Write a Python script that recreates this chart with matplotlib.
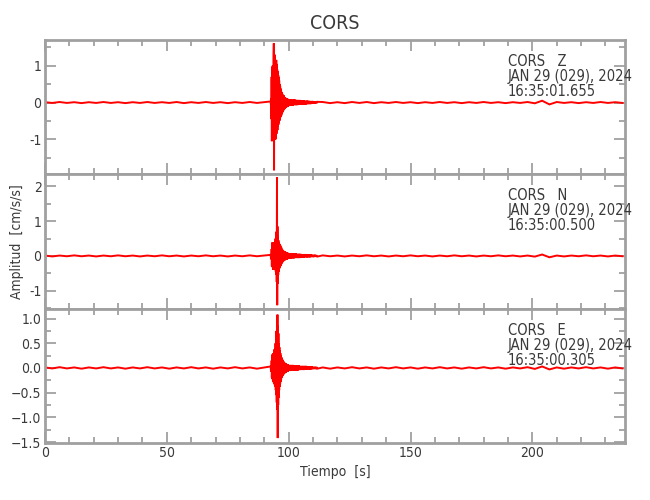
import matplotlib
matplotlib.use('Agg')
import matplotlib.pyplot as plt
from matplotlib.ticker import MultipleLocator
import numpy as np

plt.rcParams['font.family'] = ['DejaVu Sans']
plt.rcParams['font.stretch'] = 'condensed'

STATION = 'CORS'
COMPONENTS = ['Z', 'N', 'E']
DATE_LABEL = 'JAN 29 (029), 2024'
START_TIMES = ['16:35:01.655', '16:35:00.500', '16:35:00.305']
YLIMS = [(-1.95, 1.7), (-1.52, 2.35), (-1.52, 1.2)]
Y_MAJOR = [1.0, 1.0, 0.5]
Y_MINOR = [0.5, 0.5, 0.25]
T_MAX = 238

# sample times of each trace segment
t_pre = np.linspace(0, 90, 31)
t_evt = np.linspace(92.6, 99.9, 74)
t_coda = np.linspace(100.0, 111.7, 40)
t_post = np.linspace(114, 237, 42)

# ---- Z component (cm/s/s) ----
z_pre = [0.01, -0.01, 0.015, -0.01, 0.01, -0.015, 0.01, -0.01, 0.015, -0.01,
         0.01, -0.015, 0.01, -0.01, 0.015, -0.01, 0.01, -0.01, 0.015, -0.015,
         0.01, -0.01, 0.015, -0.01, 0.01, -0.015, 0.01, -0.01, 0.015, -0.01, 0.01]
z_evt = [0.03, -0.05, 0.12, -0.45,
         0.7, -1.05, 0.95, -0.8, 1.0, -0.9, 0.75, -0.95, 1.2, 1.61,
         -1.84, 0.9, -1.0, 1.3, -0.9, 1.0, -1.0, 0.95, -0.95, 1.16,
         -0.85, 1.05, -0.8, 0.9, -0.75, 0.85, -0.65, 0.75, -0.6, 0.7,
         -0.55, 0.6, -0.5, 0.5, -0.45, 0.45, -0.4, 0.38, -0.38, 0.32,
         -0.35, 0.28, -0.3, 0.25, -0.27, 0.22, -0.24, 0.2, -0.22, 0.2,
         -0.2, 0.17, -0.18, 0.15, -0.17, 0.14, -0.15, 0.13, -0.14, 0.12,
         -0.13, 0.12, -0.12, 0.11, -0.11, 0.1, -0.1, 0.1, -0.1, 0.09]
z_coda = [-0.09, 0.09, -0.08, 0.09, -0.08, 0.08, -0.08, 0.08, -0.07, 0.08,
          -0.07, 0.07, -0.07, 0.07, -0.06, 0.07, -0.06, 0.06, -0.06, 0.06,
          -0.05, 0.06, -0.05, 0.05, -0.05, 0.05, -0.04, 0.05, -0.04, 0.04,
          -0.04, 0.04, -0.03, 0.04, -0.03, 0.03, -0.03, 0.03, -0.02, 0.02]
z_post = [0.015, -0.015, 0.01, -0.015, 0.015, -0.01, 0.015, -0.015, 0.01, -0.01,
          0.015, -0.01, 0.01, -0.015, 0.01, -0.01, 0.015, -0.01, 0.01, -0.015,
          0.01, -0.01, 0.015, -0.01, 0.01, -0.015, 0.01, -0.01, 0.015, -0.02,
          0.05, -0.05, 0.015, -0.01, 0.01, -0.015, 0.01, -0.01, 0.015, -0.01,
          0.01, -0.01]

# ---- N component ----
n_pre = [0.01, -0.015, 0.01, -0.01, 0.015, -0.01, 0.01, -0.015, 0.01, -0.01,
         0.015, -0.01, 0.01, -0.015, 0.01, -0.01, 0.015, -0.01, 0.01, -0.015,
         0.01, -0.01, 0.015, -0.01, 0.01, -0.015, 0.01, -0.01, 0.015, -0.01, 0.01]
n_evt = [0.03, -0.04, 0.05, -0.1,
         0.2, -0.3, 0.35, -0.3, 0.4, -0.35, 0.3, -0.4, 0.35, -0.3,
         0.4, -0.35, 0.38, -0.4, 0.42, -0.38, 0.5, -0.45, 0.6, -0.55,
         0.7, -0.75, 2.26, -1.42, 0.85, -0.8, 0.6, -0.55, 0.45, -0.45,
         0.4, -0.38, 0.35, -0.35, 0.32, -0.3, 0.3, -0.28, 0.26, -0.25,
         0.24, -0.22, 0.2, -0.2, 0.18, -0.18, 0.17, -0.16, 0.15, -0.15,
         0.14, -0.14, 0.13, -0.13, 0.12, -0.12, 0.12, -0.11, 0.11, -0.11,
         0.1, -0.1, 0.1, -0.1, 0.09, -0.09, 0.09, -0.09, 0.08, -0.08]
n_coda = [0.08, -0.08, 0.08, -0.07, 0.08, -0.07, 0.07, -0.07, 0.07, -0.06,
          0.07, -0.06, 0.06, -0.06, 0.06, -0.06, 0.06, -0.05, 0.05, -0.05,
          0.05, -0.05, 0.05, -0.04, 0.05, -0.04, 0.04, -0.04, 0.04, -0.04,
          0.04, -0.03, 0.03, -0.03, 0.03, -0.03, 0.03, -0.02, 0.02, -0.02]
n_post = [0.015, -0.01, 0.01, -0.015, 0.01, -0.01, 0.015, -0.01, 0.01, -0.015,
          0.01, -0.01, 0.015, -0.01, 0.01, -0.015, 0.01, -0.01, 0.015, -0.01,
          0.01, -0.015, 0.01, -0.01, 0.015, -0.01, 0.01, -0.015, 0.01, -0.02,
          0.04, -0.04, 0.01, -0.015, 0.01, -0.01, 0.015, -0.01, 0.01, -0.015,
          0.01, -0.01]

# ---- E component ----
e_pre = [0.01, -0.01, 0.015, -0.01, 0.01, -0.015, 0.01, -0.01, 0.015, -0.01,
         0.01, -0.015, 0.01, -0.01, 0.015, -0.01, 0.01, -0.015, 0.01, -0.01,
         0.015, -0.01, 0.01, -0.015, 0.01, -0.01, 0.015, -0.01, 0.01, -0.015, 0.01]
e_evt = [0.03, -0.03, 0.05, -0.08,
         0.15, -0.2, 0.25, -0.22, 0.28, -0.25, 0.3, -0.28, 0.3, -0.3,
         0.35, -0.32, 0.38, -0.35, 0.4, -0.38, 0.5, -0.45, 0.6, -0.55,
         0.75, -0.7, 0.97, -0.85, 1.08, -1.42, 0.85, -0.75, 0.7, -0.6,
         0.5, -0.45, 0.42, -0.38, 0.35, -0.32, 0.3, -0.28, 0.26, -0.24,
         0.22, -0.2, 0.2, -0.18, 0.17, -0.16, 0.15, -0.14, 0.14, -0.13,
         0.12, -0.12, 0.11, -0.11, 0.1, -0.1, 0.1, -0.09, 0.09, -0.09,
         0.08, -0.08, 0.08, -0.08, 0.07, -0.07, 0.07, -0.07, 0.06, -0.06]
e_coda = [0.06, -0.06, 0.06, -0.06, 0.06, -0.05, 0.06, -0.05, 0.05, -0.05,
          0.05, -0.05, 0.05, -0.05, 0.05, -0.04, 0.04, -0.04, 0.04, -0.04,
          0.04, -0.04, 0.04, -0.03, 0.04, -0.03, 0.03, -0.03, 0.03, -0.03,
          0.03, -0.03, 0.03, -0.02, 0.02, -0.02, 0.02, -0.02, 0.02, -0.015]
e_post = [0.01, -0.015, 0.01, -0.01, 0.015, -0.01, 0.01, -0.015, 0.01, -0.01,
          0.015, -0.01, 0.01, -0.015, 0.01, -0.01, 0.015, -0.01, 0.01, -0.015,
          0.01, -0.01, 0.015, -0.01, 0.01, -0.015, 0.01, -0.01, 0.015, -0.02,
          0.03, -0.03, 0.01, -0.015, 0.01, -0.01, 0.015, -0.01, 0.01, -0.015,
          0.01, -0.01]

traces = [(z_pre, z_evt, z_coda, z_post),
          (n_pre, n_evt, n_coda, n_post),
          (e_pre, e_evt, e_coda, e_post)]

t_all = np.concatenate([t_pre, t_evt, t_coda, t_post])

AXIS_GRAY = '#a0a0a0'
TEXT = '#3a3a3a'

fig, axes = plt.subplots(3, 1, figsize=(6.5, 5), dpi=100, sharex=True)
fig.subplots_adjust(left=0.0692, right=0.9615, top=0.92, bottom=0.114, hspace=0)

for i, ax in enumerate(axes):
    parts = traces[i]
    vals = np.concatenate([np.asarray(p, float) for p in parts])
    assert len(vals) == len(t_all), (i, len(vals), len(t_all))
    ax.plot(t_all, vals, color='#ff0000', lw=1.4, solid_joinstyle='miter')

    ax.set_xlim(0, T_MAX)
    ax.set_ylim(*YLIMS[i])
    ax.yaxis.set_major_locator(MultipleLocator(Y_MAJOR[i]))
    ax.yaxis.set_minor_locator(MultipleLocator(Y_MINOR[i]))
    ax.xaxis.set_major_locator(MultipleLocator(50))
    ax.xaxis.set_minor_locator(MultipleLocator(10))
    if Y_MAJOR[i] == 1.0:
        ax.yaxis.set_major_formatter(plt.FuncFormatter(lambda v, p: '%d' % round(v)))

    ax.tick_params(which='both', direction='in', top=True, right=True,
                   color=AXIS_GRAY, width=1.3, labelcolor=TEXT, labelsize=10, pad=2.5)
    ax.tick_params(which='major', length=8)
    ax.tick_params(which='minor', length=4)
    for sp in ax.spines.values():
        sp.set_color(AXIS_GRAY)
        sp.set_linewidth(2)

    ax.text(0.798, 0.895, '%s   %s\n%s\n%s' % (STATION, COMPONENTS[i], DATE_LABEL, START_TIMES[i]),
            transform=ax.transAxes, ha='left', va='top', fontsize=10.5,
            color=TEXT, linespacing=1.0)

axes[0].set_title(STATION, fontsize=14, color=TEXT, pad=8)
axes[1].set_ylabel('Amplitud  [cm/s/s]', fontsize=10, color=TEXT, labelpad=4)
axes[2].set_xlabel('Tiempo  [s]', fontsize=10, color=TEXT, labelpad=3)

plt.savefig('out.png', dpi=100)
